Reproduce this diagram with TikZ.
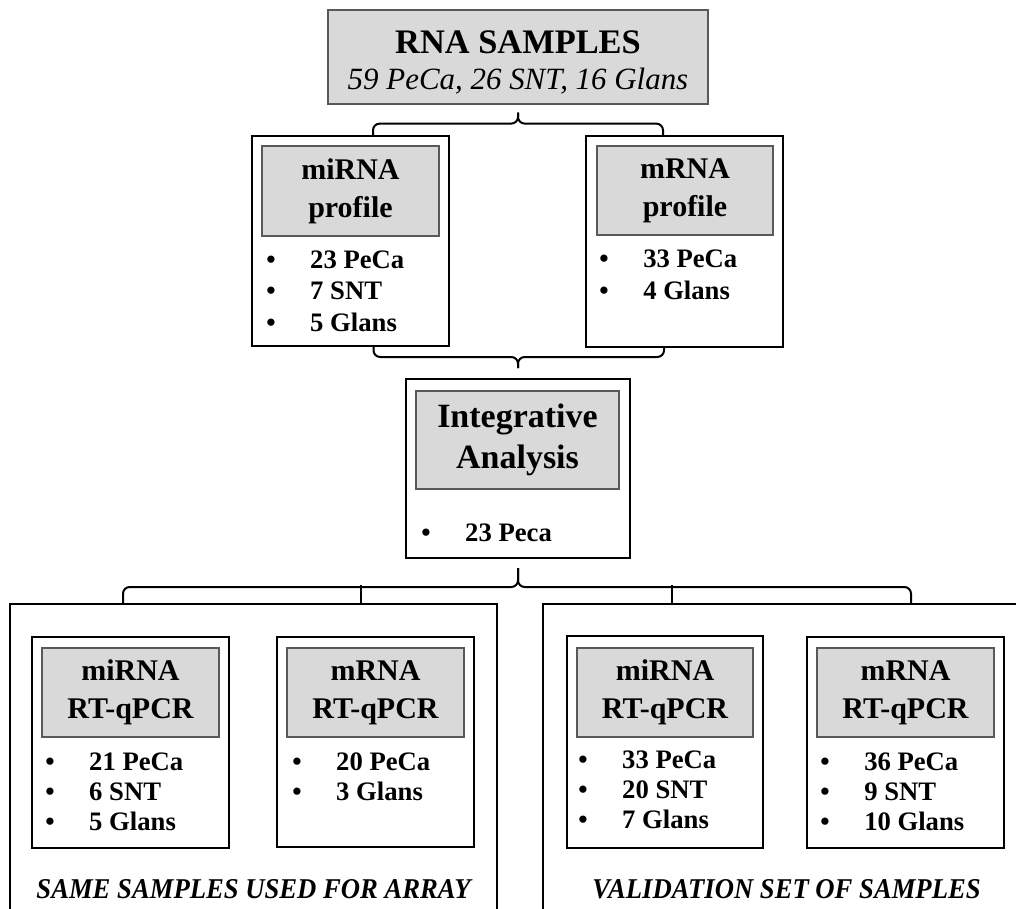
\documentclass[tikz,border=0pt]{standalone}
\usepackage{fontspec}
\setmainfont{Liberation Serif}
\usetikzlibrary{calc}
\newcommand{\bul}{\makebox[33pt][l]{•}}
\begin{document}
\begin{tikzpicture}[x=0.75pt,y=-0.75pt,
  outer/.style={draw=black, line width=1.5pt, inner sep=0pt},
  graybox/.style={draw=black!65, line width=0.9pt, fill=black!15, inner sep=0pt, align=center,
     font=\bfseries\fontsize{22.5}{28.5}\selectfont},
  listtxt/.style={anchor=west, align=left, inner sep=0pt, font=\bfseries\fontsize{20}{22.5}\selectfont},
  brace/.style={draw=black, line width=1.5pt, rounded corners=5pt},
  caption/.style={anchor=base, inner sep=0pt, font=\bfseries\itshape\fontsize{21.5}{24}\selectfont}]
\useasboundingbox (0,0) rectangle (1016,909);
\clip (0,0) rectangle (1016,909);

% top
\node[graybox, minimum width=380*0.75pt, minimum height=94*0.75pt] (top) at (518,57) {};
\node[anchor=base, inner sep=0pt, font=\bfseries\fontsize{25.8}{28}\selectfont] (toptitle) at (518,54) {RNA SAMPLES};
\node[anchor=base, inner sep=0pt, font=\itshape\fontsize{23.2}{26}\selectfont] (topsub) at (518,90) {59 PeCa, 26 SNT, 16 Glans};

% profiles
\node[outer, minimum width=197*0.75pt, minimum height=210*0.75pt] (mirp) at (350.5,241) {};
\node[graybox, minimum width=177*0.75pt, minimum height=90*0.75pt] (mirpg) at (350.5,191) {miRNA\\profile};
\node[listtxt, font=\bfseries\fontsize{20}{23.6}\selectfont] (mirpl) at (266,291) {\bul 23 PeCa\\\bul 7 SNT\\\bul 5 Glans};

\node[outer, minimum width=197*0.75pt, minimum height=211*0.75pt] (mrp) at (684.5,241.5) {};
\node[graybox, minimum width=176*0.75pt, minimum height=89*0.75pt] (mrpg) at (685,190.5) {mRNA\\profile};
\node[listtxt, font=\bfseries\fontsize{20}{23.6}\selectfont] (mrpl) at (599,275) {\bul 33 PeCa\\\bul 4 Glans};

% integrative
\node[outer, minimum width=224*0.75pt, minimum height=179*0.75pt] (int) at (518,468.5) {};
\node[graybox, minimum width=203*0.75pt, minimum height=98*0.75pt, font=\bfseries\fontsize{25.5}{30.5}\selectfont] (intg) at (517.5,440) {Integrative\\Analysis};
\node[listtxt] (intl) at (421,533) {\bul 23 Peca};

% panels
\node[outer, minimum width=487*0.75pt, minimum height=330*0.75pt] (p1) at (253.5,769) {};
\node[outer, minimum width=487*0.75pt, minimum height=330*0.75pt] (p2) at (786.5,769) {};

\node[outer, minimum width=197*0.75pt, minimum height=211*0.75pt] (a) at (130.5,742.5) {};
\node[graybox, minimum width=177*0.75pt, minimum height=89*0.75pt] (ag) at (130.5,692.5) {miRNA\\RT-qPCR};
\node[listtxt] (al) at (45,792) {\bul 21 PeCa\\\bul 6 SNT\\\bul 5 Glans};

\node[outer, minimum width=197*0.75pt, minimum height=210*0.75pt] (b) at (375.5,742) {};
\node[graybox, minimum width=177*0.75pt, minimum height=89*0.75pt] (bg) at (375.5,692.5) {mRNA\\RT-qPCR};
\node[listtxt] (bl) at (292,777) {\bul 20 PeCa\\\bul 3 Glans};

\node[outer, minimum width=196*0.75pt, minimum height=212*0.75pt] (c) at (665,742) {};
\node[graybox, minimum width=176*0.75pt, minimum height=89*0.75pt] (cg) at (665,692.5) {miRNA\\RT-qPCR};
\node[listtxt] (cl) at (578,790) {\bul 33 PeCa\\\bul 20 SNT\\\bul 7 Glans};

\node[outer, minimum width=197*0.75pt, minimum height=211*0.75pt] (d) at (905.5,742.5) {};
\node[graybox, minimum width=177*0.75pt, minimum height=89*0.75pt] (dg) at (905.5,692.5) {mRNA\\RT-qPCR};
\node[listtxt] (dl) at (820,792) {\bul 36 PeCa\\\bul 9 SNT\\\bul 10 Glans};

\node[caption] (cap1) at (253.5,898) {\scalebox{0.93}[1]{SAME SAMPLES USED FOR ARRAY}};
\node[caption] (cap2) at (786.5,898) {\scalebox{0.93}[1]{VALIDATION SET OF SAMPLES}};

% braces
\draw[brace] ($(mirp.north)+(22.5,0)$) |- ($(top.south)+(0,19)$) -- ($(top.south)+(0,8)$);
\draw[brace] ($(mrp.north)+(-21.5,0)$) |- ($(top.south)+(0,19)$) -- ($(top.south)+(0,8)$);

\draw[brace] ($(mirp.south)+(23,0)$) |- ($(int.north)+(0,-21)$) -- ($(int.north)+(0,-10)$);
\draw[brace] ($(mrp.south)+(-20.5,0)$) |- ($(int.north)+(0,-21)$) -- ($(int.north)+(0,-10)$);

\draw[brace] ($(p1.north)+(-130.5,0)$) |- ($(int.south)+(0,28)$) -- ($(int.south)+(0,9)$);
\draw[brace] ($(p2.north)+(124.5,0)$) |- ($(int.south)+(0,28)$) -- ($(int.south)+(0,9)$);
\draw[brace] ($(p1.north)+(107.5,0)$) -- ($(p1.north)+(107.5,-18)$);
\draw[brace] ($(p2.north)+(-114.5,0)$) -- ($(p2.north)+(-114.5,-18)$);
\end{tikzpicture}
\end{document}
